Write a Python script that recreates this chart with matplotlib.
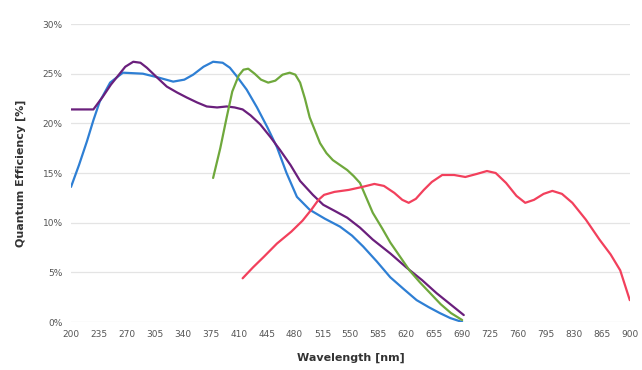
import matplotlib
matplotlib.use("Agg")
import matplotlib.pyplot as plt
import numpy as np

# wavelength ticks and y ticks
x_ticks = list(range(200, 901, 35))
y_ticks = [0, 5, 10, 15, 20, 25, 30]

# blue sensor
blue_nm = [200, 210, 220, 228, 236, 249, 265, 290, 310, 328, 342, 353, 366, 378, 390, 399, 408, 420, 433, 446, 458,
           470, 483, 499, 518, 537, 552, 566, 583, 600, 617, 633, 648, 662, 675, 690]
blue_qe = [13.6, 15.8, 18.2, 20.3, 22.2, 24.1, 25.1, 25.0, 24.6, 24.2, 24.4, 24.9, 25.7, 26.2, 26.1, 25.6, 24.7, 23.4, 21.6, 19.6, 17.6,
           15.0, 12.6, 11.3, 10.4, 9.6, 8.7, 7.6, 6.1, 4.5, 3.3, 2.2, 1.5, 0.9, 0.4, 0.0]

# purple sensor
purple_nm = [200, 215, 228, 240, 250, 258, 268, 278, 287, 295, 308, 320, 333, 345, 358, 370, 383, 395, 405, 415,
             425, 437, 450, 462, 475, 487, 503, 516, 530, 546, 562, 578, 600, 620, 640, 658, 675, 692]
purple_qe = [21.4, 21.4, 21.4, 22.7, 23.9, 24.7, 25.7, 26.2, 26.1, 25.6, 24.6, 23.7, 23.1, 22.6, 22.1, 21.7, 21.6, 21.7, 21.6, 21.4,
             20.8, 19.9, 18.6, 17.3, 15.8, 14.2, 12.8, 11.8, 11.2, 10.5, 9.5, 8.3, 6.9, 5.5, 4.2, 2.9, 1.8, 0.7]

# green sensor
green_nm = [378, 387, 395, 402, 410, 416, 422, 430, 438, 447, 456, 465, 474, 481, 487, 493, 499, 506, 512, 520,
            528, 537, 546, 554, 562, 570, 578, 590, 600, 612, 624, 637, 650, 663, 676, 690]
green_qe = [14.5, 17.5, 20.6, 23.2, 24.8, 25.4, 25.5, 25.0, 24.4, 24.1, 24.3, 24.9, 25.1, 24.9, 24.1, 22.5, 20.6, 19.2, 18.0, 17.0,
            16.3, 15.8, 15.3, 14.7, 14.0, 12.5, 11.0, 9.4, 8.0, 6.6, 5.2, 4.0, 2.9, 1.8, 0.9, 0.2]

# red sensor
red_nm = [415, 428, 442, 458, 476, 490, 501, 510, 517, 530, 548, 565, 580, 592, 605, 615, 623, 632, 642, 652,
          665, 680, 694, 708, 721, 732, 745, 758, 769, 780, 792, 803, 815, 828, 845, 862, 876, 888, 900]
red_qe = [4.4, 5.5, 6.6, 7.9, 9.1, 10.2, 11.3, 12.3, 12.8, 13.1, 13.3, 13.6, 13.9, 13.7, 13.0, 12.3, 12.0, 12.4, 13.3, 14.1,
          14.8, 14.8, 14.6, 14.9, 15.2, 15.0, 14.0, 12.7, 12.0, 12.3, 12.9, 13.2, 12.9, 12.0, 10.3, 8.3, 6.8, 5.2, 2.2]

series = [
    (blue_nm, blue_qe, "#2e7fd4"),
    (purple_nm, purple_qe, "#6a1f7c"),
    (green_nm, green_qe, "#6fa83c"),
    (red_nm, red_qe, "#f2405c"),
]

fig = plt.figure(figsize=(6.42, 3.70), dpi=100)
ax = fig.add_axes([0.1106, 0.1297, 0.8704, 0.8054])

for nm, qe, col in series:
    ax.plot(nm, qe, color=col, linewidth=1.6, solid_joinstyle="round", solid_capstyle="round", zorder=3)

ax.set_xlim(200, 900)
ax.set_ylim(0, 30)
ax.set_xticks(x_ticks)
ax.set_xticklabels([str(t) for t in x_ticks])
ax.set_yticks(y_ticks)
ax.set_yticklabels(["%d%%" % t for t in y_ticks])
ax.tick_params(axis="both", length=0, labelsize=6.5, labelcolor="#555555", pad=6)
ax.grid(axis="y", color="#e4e4e4", linewidth=0.9)
ax.set_axisbelow(True)
for s in ax.spines.values():
    s.set_visible(False)

ax.set_xlabel("Wavelength [nm]", fontsize=8, fontweight="bold", color="#333333", labelpad=10)
ax.set_ylabel("Quantum Efficiency [%]", fontsize=8, fontweight="bold", color="#333333", labelpad=12)

fig.savefig("out.png", dpi=100)
